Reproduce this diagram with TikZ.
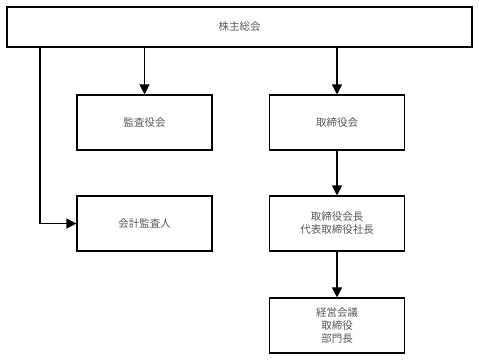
\documentclass[tikz,border=0pt]{standalone}
\usepackage{fontspec}
\newfontfamily\jpfont{Noto Sans CJK JP}
\usetikzlibrary{arrows.meta, positioning}

\begin{document}
\begin{tikzpicture}[x=1pt, y=-1pt, >={Triangle[width=10pt, length=10pt]},
    box/.style={draw, line width=1.1pt, minimum width=135pt, minimum height=55pt,
        align=center, text=black!65, font=\jpfont\fontsize{10.5}{13}\selectfont, inner sep=0pt},
    link/.style={->, line width=1.1pt}]
    \useasboundingbox (0,0) rectangle (479,359);
    % 1. Các ô
    \node[box, minimum width=465pt, minimum height=40pt] (soukai) at (239.5,27) {株主総会};
    \node[box] (kansa) at (144.5,122.5) {監査役会};
    \node[box] (torishimari) at (337,122.5) {取締役会};
    \node[box] (kaikei) at (144.5,223.5) {会計監査人};
    \node[box] (shachou) at (337,223.5) {取締役会長\\代表取締役社長};
    \node[box] (keiei) at (337,325.5) {経営会議\\取締役\\部門長};
    % 2. Các mũi tên
    \coordinate (turn) at (40,223.5);
    \draw[link] (soukai.south -| kansa.north) -- (kansa.north);
    \draw[link] (soukai.south -| torishimari.north) -- (torishimari.north);
    \draw[link] (soukai.south -| turn) |- (kaikei.west);
    \draw[link] (torishimari) -- (shachou);
    \draw[link] (shachou) -- (keiei);
\end{tikzpicture}
\end{document}
